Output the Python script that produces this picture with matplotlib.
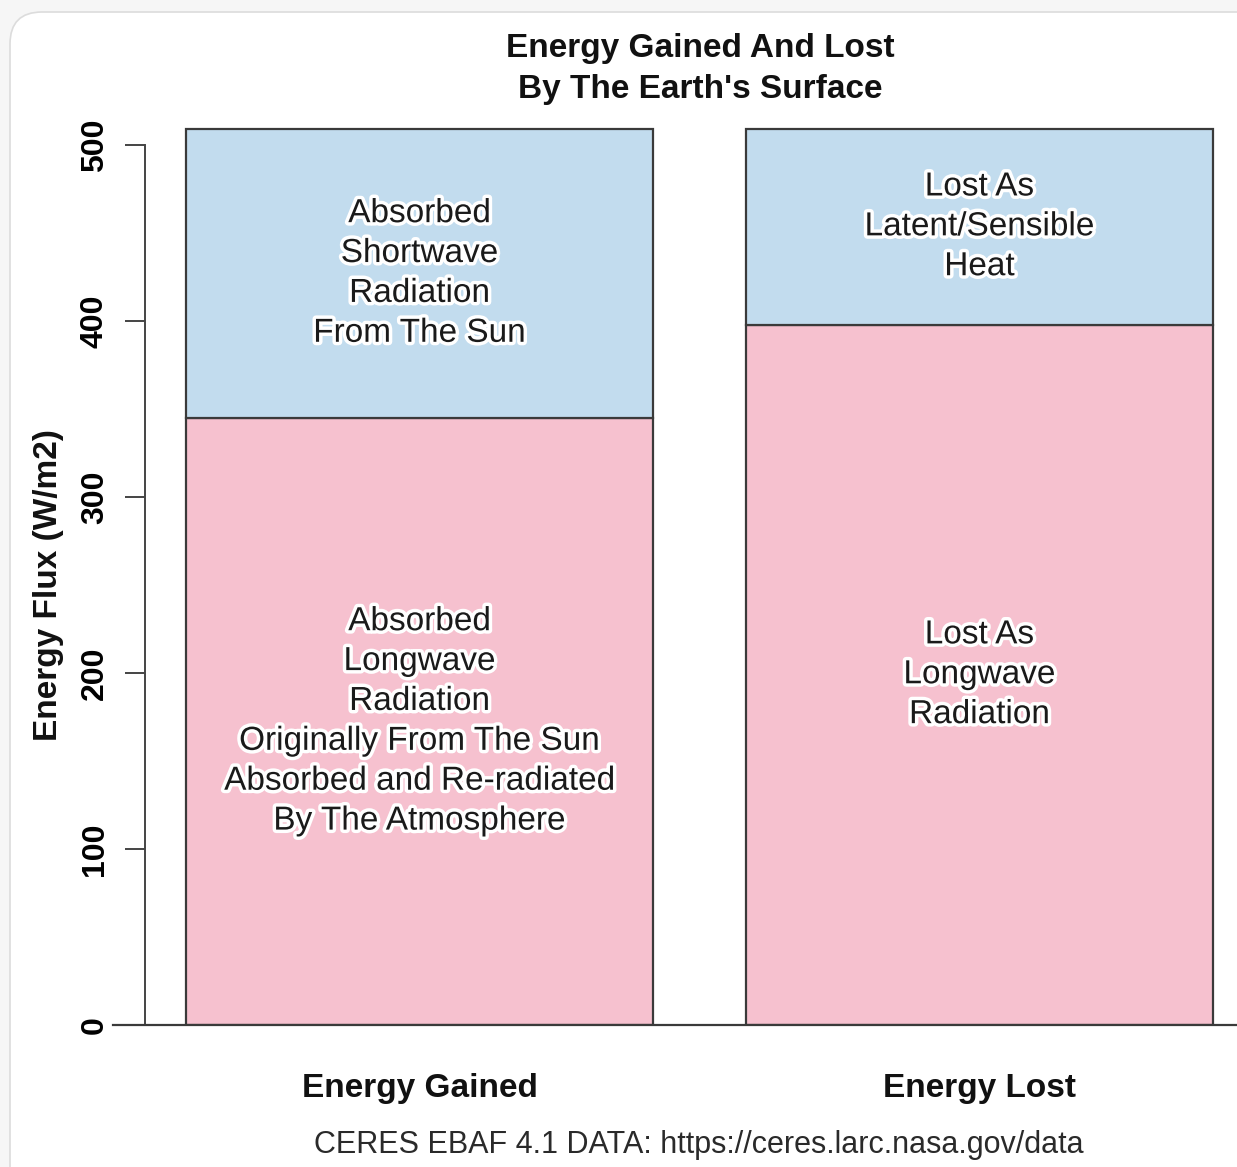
import matplotlib.pyplot as plt
import matplotlib.patheffects as pe
from matplotlib.patches import FancyBboxPatch

# data (W/m2)
categories = ['Energy Gained', 'Energy Lost']
longwave = [345, 398]
upper = [164, 111]
lower_labels = ['Absorbed\nLongwave\nRadiation\nOriginally From The Sun\nAbsorbed and Re-radiated\nBy The Atmosphere',
                'Lost As\nLongwave\nRadiation']
upper_labels = ['Absorbed\nShortwave\nRadiation\nFrom The Sun',
                'Lost As\nLatent/Sensible\nHeat']
y_ticks = [0, 100, 200, 300, 400, 500]

pink = '#f6c1cf'
blue = '#c2dcee'
edge = '#3a3a3a'

plt.rcParams['font.family'] = ['Liberation Sans', 'DejaVu Sans']

W, H = 1237, 1167
fig = plt.figure(figsize=(W / 100, H / 100), dpi=100)
fig.patch.set_facecolor('#f6f6f6')

# rounded white card behind the chart
card = FancyBboxPatch((10, -40), 1290, H - 12 + 40,
                      boxstyle='round,pad=0,rounding_size=32',
                      transform=None, facecolor='white', edgecolor='#dcdcdc',
                      linewidth=1.2, zorder=-5)
fig.patches.append(card)

ax = fig.add_axes([113 / W, (H - 1025) / H, 1 - 113 / W, 520 * 1.76 / H])
ax.set_facecolor('none')

x = [0, 1.2]
ax.bar(x, longwave, width=1, color=pink, edgecolor=edge, linewidth=1.6, zorder=2)
ax.bar(x, upper, width=1, bottom=longwave, color=blue, edgecolor=edge,
       linewidth=1.6, zorder=2)

halo = [pe.withStroke(linewidth=5, foreground='white')]
for xi, lw, up, lo_lab, up_lab in zip(x, longwave, upper, lower_labels, upper_labels):
    ax.text(xi, lw / 2, lo_lab, ha='center', va='center', fontsize=24,
            color='#1a1a1a', linespacing=1.37, path_effects=halo, zorder=3)
    ax.text(xi, lw + up / 2, up_lab, ha='center', va='center', fontsize=24,
            color='#1a1a1a', linespacing=1.37, path_effects=halo, zorder=3)

ax.set_xlim(-0.657, 1.752)
ax.set_ylim(0, 520)

for s in ['top', 'right']:
    ax.spines[s].set_visible(False)
ax.spines['bottom'].set_color(edge)
ax.spines['bottom'].set_linewidth(1.6)
ax.spines['left'].set_position(('data', -0.588))
ax.spines['left'].set_bounds(0, 500)
ax.spines['left'].set_color('#444444')
ax.spines['left'].set_linewidth(1.4)

ax.set_xticks([])
ax.set_yticks(y_ticks)
ax.set_yticklabels([str(t) for t in y_ticks], rotation=90, va='center',
                   fontsize=23, fontweight='bold')
ax.tick_params(axis='y', length=14.4, width=1.4, color='#444444', pad=11)

for xi, cat in zip(x, categories):
    ax.text(xi, -36, cat, ha='center', va='center', fontsize=24,
            fontweight='bold', color='#111111')

fig.text(48 / W, 1 - 585 / H, 'Energy Flux (W/m2)', rotation=90, ha='center',
         va='center', fontsize=24, fontweight='bold', color='#111111')
fig.text(700 / W, 1 - 69 / H, "Energy Gained And Lost\nBy The Earth's Surface",
         ha='center', va='center', fontsize=24, fontweight='bold',
         color='#111111', linespacing=1.38)
fig.text(699 / W, 1 - 1145 / H, 'CERES EBAF 4.1 DATA: https://ceres.larc.nasa.gov/data',
         ha='center', va='center', fontsize=22, color='#2a2a2a')

fig.savefig('out.png', dpi=100, facecolor=fig.get_facecolor())
